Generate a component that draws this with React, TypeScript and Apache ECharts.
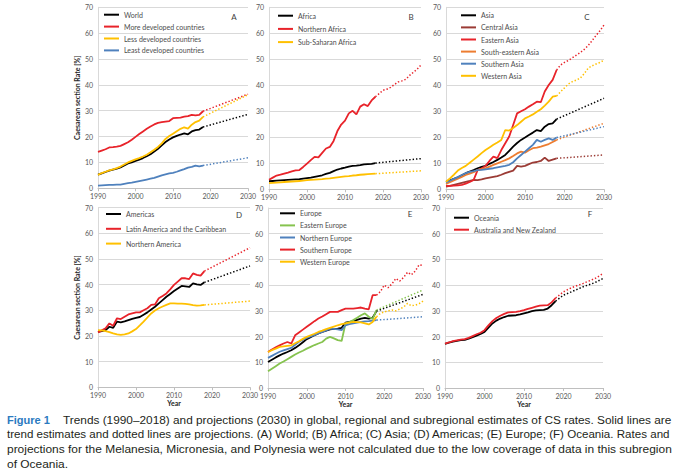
import React, { useEffect, useRef } from "react";
import * as echarts from "echarts";

// ---------- categories ----------
const YEARS = Array.from({ length: 29 }, (_, i) => 1990 + i); // 1990..2018
const PROJ_ENDS = [2018, 2030];
const PROJ_YEARS = [2018, 2019, 2020, 2021, 2022, 2023, 2024, 2025, 2026, 2027, 2028, 2029, 2030];
const PROJ_F_YEARS = [2018, 2020, 2022, 2025, 2028, 2030];
const Y_TICKS = [0, 10, 20, 30, 40, 50, 60, 70];
const X_TICKS = [1990, 2000, 2010, 2020, 2030];

// ---------- A: World ----------
const WORLD = [5.3, 5.8, 6.3, 6.8, 7.2, 7.6, 8.1, 8.8, 9.6, 10.0, 10.6, 11.1, 11.7, 12.4, 13.2, 14.2, 15.3, 16.6, 17.9, 18.9, 19.7, 20.3, 20.8, 21.2, 20.9, 22.0, 22.5, 22.7, 23.7];
const WORLD_PROJ = [23.7, 28.6];
const MORE_DEV = [14.1, 14.6, 15.1, 15.8, 15.9, 16.1, 16.4, 17.1, 17.8, 18.8, 19.9, 21.0, 22.0, 23.0, 23.9, 24.7, 25.3, 25.6, 25.8, 26.0, 27.1, 27.2, 27.3, 27.7, 27.9, 28.4, 28.2, 28.4, 29.8];
const MORE_DEV_PROJ = [29.8, 36.4];
const LESS_DEV = [5.2, 5.9, 6.4, 6.9, 7.3, 7.8, 8.4, 9.2, 10.0, 10.6, 11.2, 11.7, 12.3, 13.0, 13.9, 14.9, 16.0, 17.4, 19.1, 20.2, 21.1, 22.1, 23.0, 23.6, 23.1, 24.6, 25.6, 26.2, 27.6];
const LESS_DEV_PROJ = [27.6, 36.2];
const LEAST_DEV = [1.0, 1.1, 1.2, 1.3, 1.3, 1.4, 1.4, 1.7, 2.0, 2.2, 2.5, 2.8, 3.1, 3.4, 3.7, 4.0, 4.5, 5.0, 5.4, 5.8, 6.0, 6.4, 6.9, 7.4, 8.0, 8.3, 8.8, 8.5, 8.8];
const LEAST_DEV_PROJ = [8.8, 11.8];

// ---------- B: Africa ----------
const AFRICA = [3.1, 3.2, 3.3, 3.4, 3.5, 3.6, 3.7, 3.8, 3.9, 4.1, 4.3, 4.5, 4.8, 5.1, 5.4, 5.9, 6.3, 7.0, 7.6, 8.0, 8.3, 8.7, 9.0, 9.1, 9.3, 9.6, 9.7, 9.8, 10.1];
const AFRICA_PROJ = [10.1, 11.8];
const N_AFRICA = [3.7, 4.5, 5.3, 5.6, 6.0, 6.4, 6.9, 7.3, 7.4, 8.6, 9.9, 11.2, 12.5, 12.3, 14.0, 15.7, 16.3, 18.6, 22.4, 24.9, 26.4, 29.2, 30.2, 28.8, 31.8, 32.7, 32.0, 34.2, 35.6];
const N_AFRICA_PROJ = [35.6, 36.8, 38.1, 38.5, 39.2, 40.3, 41.3, 41.7, 42.3, 43.8, 45.0, 46.2, 47.8];
const SS_AFRICA = [2.4, 2.5, 2.6, 2.7, 2.8, 2.9, 3.0, 3.1, 3.2, 3.3, 3.5, 3.6, 3.7, 3.8, 3.9, 4.1, 4.2, 4.4, 4.6, 4.8, 5.0, 5.1, 5.3, 5.4, 5.6, 5.7, 5.8, 5.9, 6.0];
const SS_AFRICA_PROJ = [6.0, 7.1];

// ---------- C: Asia ----------
const ASIA = [2.9, 3.4, 4.0, 4.6, 5.4, 6.2, 6.8, 7.4, 8.1, 8.6, 9.0, 9.8, 10.5, 11.3, 12.2, 13.2, 14.8, 16.4, 17.8, 19.0, 19.9, 20.9, 21.8, 22.8, 22.4, 24.1, 25.1, 25.4, 27.0];
const ASIA_PROJ = [27.0, 35.0];
const C_ASIA = [1.0, 1.3, 1.7, 2.1, 2.5, 2.9, 3.2, 3.6, 3.5, 3.8, 4.2, 4.5, 4.8, 5.1, 5.6, 6.2, 6.7, 7.2, 9.0, 8.7, 9.0, 9.7, 10.3, 10.5, 10.9, 12.2, 10.9, 11.4, 11.9];
const C_ASIA_PROJ = [11.9, 13.2];
const E_ASIA = [1.3, 1.3, 1.4, 1.5, 1.7, 2.2, 2.8, 3.6, 7.4, 8.0, 9.0, 10.9, 12.6, 12.0, 15.1, 17.7, 20.3, 24.7, 29.2, 30.0, 30.8, 31.8, 32.7, 33.7, 33.5, 37.6, 40.1, 42.1, 45.9];
const E_ASIA_PROJ = [45.9, 47.8, 48.8, 49.6, 50.6, 51.6, 52.6, 53.8, 55.3, 57.2, 59.2, 61.0, 63.2];
const SE_ASIA = [2.1, 2.7, 3.4, 4.1, 4.8, 5.5, 6.0, 6.6, 7.4, 7.8, 8.1, 8.7, 9.4, 10.0, 10.6, 11.2, 11.9, 12.8, 13.8, 14.5, 14.1, 15.0, 15.8, 16.0, 16.4, 16.9, 17.4, 18.2, 19.0];
const SE_ASIA_PROJ = [19.0, 25.4];
const S_ASIA = [2.6, 3.3, 4.0, 4.7, 5.5, 6.2, 6.7, 7.0, 7.4, 7.5, 7.7, 7.9, 8.1, 8.4, 8.7, 9.0, 9.4, 10.4, 11.9, 13.2, 14.5, 15.8, 17.1, 19.0, 18.3, 19.0, 19.6, 19.0, 19.9];
const S_ASIA_PROJ = [19.9, 24.1];
const W_ASIA = [2.9, 4.2, 5.6, 7.2, 8.2, 9.0, 10.2, 11.4, 12.6, 13.9, 15.1, 16.1, 17.1, 18.0, 19.0, 22.8, 22.6, 23.6, 24.7, 26.0, 27.3, 28.0, 28.8, 29.8, 30.8, 32.2, 33.7, 35.6, 35.9];
const W_ASIA_PROJ = [35.9, 37.5, 39.0, 40.5, 41.4, 42.0, 42.8, 44.5, 46.6, 47.5, 48.2, 48.8, 49.7];

// ---------- D: Americas ----------
const AMERICAS = [21.6, 21.9, 22.3, 23.6, 23.2, 25.6, 25.3, 25.7, 26.2, 26.7, 27.1, 27.4, 28.3, 29.2, 30.3, 31.4, 32.7, 34.0, 35.3, 36.4, 37.5, 38.5, 39.5, 39.3, 39.1, 40.5, 40.1, 39.9, 40.9];
const AMERICAS_PROJ = [40.9, 47.3];
const LATAM = [21.4, 22.2, 23.0, 24.9, 24.0, 26.9, 26.6, 27.5, 28.4, 28.8, 29.2, 29.2, 30.0, 30.8, 32.1, 32.3, 34.7, 35.6, 36.6, 38.2, 39.9, 41.2, 42.5, 42.5, 42.2, 44.4, 43.8, 43.5, 45.3];
const LATAM_PROJ = [45.3, 54.4];
const N_AMERICA = [22.3, 22.2, 21.9, 21.5, 21.0, 20.6, 20.4, 20.6, 21.0, 21.8, 22.7, 24.1, 25.6, 27.2, 28.8, 29.9, 30.8, 31.5, 32.1, 32.7, 32.7, 32.6, 32.6, 32.5, 32.3, 32.0, 31.8, 31.9, 32.1];
const N_AMERICA_PROJ = [32.1, 33.6];

// ---------- E: Europe ----------
const EUROPE = [10.1, 11.0, 11.9, 12.7, 13.4, 14.0, 14.7, 15.6, 16.6, 17.8, 19.0, 19.8, 20.5, 21.2, 21.8, 22.3, 22.8, 23.0, 23.1, 23.4, 25.4, 25.7, 26.0, 26.5, 27.0, 27.3, 27.0, 27.3, 29.9];
const EUROPE_PROJ = [29.9, 36.4];
const E_EUROPE = [6.5, 7.5, 8.5, 9.5, 10.3, 11.2, 12.1, 13.0, 13.8, 14.5, 15.3, 16.0, 16.7, 17.3, 17.9, 19.2, 19.9, 19.3, 18.6, 18.3, 25.1, 25.6, 26.4, 27.3, 28.3, 29.0, 27.7, 26.8, 30.3];
const E_EUROPE_PROJ = [30.3, 38.1];
const N_EUROPE = [11.7, 12.5, 13.3, 14.1, 14.6, 15.1, 15.6, 16.8, 18.0, 18.8, 19.5, 20.1, 20.6, 21.2, 21.8, 22.4, 23.1, 23.0, 22.8, 22.5, 24.4, 24.8, 25.1, 25.4, 25.7, 25.9, 26.0, 26.2, 26.4];
const N_EUROPE_PROJ = [26.4, 27.7];
const S_EUROPE = [14.0, 15.0, 15.8, 16.6, 17.3, 17.9, 17.3, 20.5, 21.6, 22.7, 23.8, 24.9, 26.0, 27.0, 27.8, 28.7, 29.6, 29.6, 29.6, 30.3, 30.9, 30.9, 30.9, 31.1, 31.3, 30.9, 30.6, 36.1, 36.1];
const S_EUROPE_PROJ = [36.1, 37.5, 40.0, 39.0, 40.5, 42.6, 41.6, 43.0, 45.0, 44.0, 45.5, 47.9, 47.6];
const W_EUROPE = [14.0, 14.7, 15.3, 16.0, 16.2, 16.4, 16.6, 17.4, 18.2, 19.1, 19.9, 20.5, 21.1, 21.8, 22.3, 22.9, 23.4, 23.9, 24.4, 24.8, 25.1, 25.4, 25.7, 25.6, 25.5, 25.1, 24.7, 25.7, 27.7];
const W_EUROPE_PROJ = [27.7, 29.0, 29.6, 30.0, 30.3, 30.0, 30.7, 31.5, 32.9, 32.0, 32.2, 32.8, 33.8];

// ---------- F: Oceania ----------
const OCEANIA = [17.2, 17.6, 18.0, 18.3, 18.6, 18.7, 19.2, 19.8, 20.4, 21.0, 21.8, 23.5, 25.1, 26.2, 27.0, 27.6, 28.1, 28.2, 28.3, 28.6, 29.0, 29.4, 29.9, 30.2, 30.3, 30.4, 30.9, 32.2, 33.8];
const OCEANIA_PROJ = [33.8, 36.1, 37.4, 39.4, 41.0, 42.6];
const AUS_NZ = [17.3, 17.7, 18.2, 18.5, 18.8, 19.0, 19.5, 20.2, 20.9, 21.5, 22.5, 24.4, 26.0, 27.2, 28.1, 28.8, 29.4, 29.5, 29.6, 29.9, 30.3, 30.8, 31.2, 31.6, 32.0, 32.1, 32.2, 33.3, 35.0];
const AUS_NZ_PROJ = [35.0, 37.4, 39.0, 40.7, 42.6, 44.5];

// ---------- texts ----------
const PANEL_LETTERS = ["A", "B", "C", "D", "E", "F"];
const Y_TITLE = "Caesarean section Rate [%]";
const X_TITLE = "Year";
const CAPTION_BOLD = "Figure 1";
const CAPTION_LINES = [
  "Trends (1990\u20132018) and projections (2030) in global, regional and subregional estimates of CS rates. Solid lines are",
  "trend estimates and dotted lines are projections. (A) World; (B) Africa; (C) Asia; (D) Americas; (E) Europe; (F) Oceania. Rates and",
  "projections for the Melanesia, Micronesia, and Polynesia were not calculated due to the low coverage of data in this subregion",
  "of Oceania.",
];

// ---------- styles ----------
const BLACK = "#000000";
const RED = "#e8232a";
const YELLOW = "#ffc000";
const BLUE = "#4f81bd";
const ORANGE = "#ed7d31";
const BROWN = "#9b3b35";
const GREEN = "#86c34f";
const FONT = "Lato, 'Noto Sans', sans-serif";

const GRIDS = [
  { left: 98, top: 7.3, width: 150, height: 181 },
  { left: 269, top: 7.3, width: 152, height: 182 },
  { left: 446, top: 7.3, width: 158, height: 182 },
  { left: 98, top: 207.7, width: 152, height: 179.6 },
  { left: 268, top: 208, width: 155, height: 180 },
  { left: 445, top: 208, width: 158, height: 180 },
];
const LEGEND_POS = [
  { left: 104, top: 9.7, gap: 11.9 },
  { left: 278, top: 10.7, gap: 13.2 },
  { left: 461, top: 10.3, gap: 12.1 },
  { left: 106, top: 209, gap: 14.8 },
  { left: 280, top: 208.3, gap: 12.1 },
  { left: 454, top: 212.7, gap: 12 },
];
const LETTER_POS = [
  [234, 17], [411, 17], [587, 17], [239, 215], [410, 214], [590, 214],
];

const pair = (xs: number[], ys: number[]) => xs.map((x, i) => [x, ys[i]]);

function trend(name: string, color: string, idx: number, vals: number[]) {
  return {
    type: "line", name, xAxisIndex: idx, yAxisIndex: idx,
    data: pair(YEARS, vals), symbol: "none", silent: true,
    lineStyle: { color, width: 1.8 }, itemStyle: { color },
  };
}
function proj(name: string, color: string, idx: number, xs: number[], vals: number[]) {
  return {
    type: "line", name: name + " (projection)", xAxisIndex: idx, yAxisIndex: idx,
    data: pair(xs, vals), symbol: "none", silent: true,
    lineStyle: { color, width: 1.5, type: [1.4, 2] }, itemStyle: { color },
  };
}

const PANELS: { name: string; color: string; vals: number[]; px: number[]; pv: number[] }[][] = [
  [
    { name: "World", color: BLACK, vals: WORLD, px: PROJ_ENDS, pv: WORLD_PROJ },
    { name: "More developed countries", color: RED, vals: MORE_DEV, px: PROJ_ENDS, pv: MORE_DEV_PROJ },
    { name: "Less developed countries", color: YELLOW, vals: LESS_DEV, px: PROJ_ENDS, pv: LESS_DEV_PROJ },
    { name: "Least developed countries", color: BLUE, vals: LEAST_DEV, px: PROJ_ENDS, pv: LEAST_DEV_PROJ },
  ],
  [
    { name: "Africa", color: BLACK, vals: AFRICA, px: PROJ_ENDS, pv: AFRICA_PROJ },
    { name: "Northern Africa", color: RED, vals: N_AFRICA, px: PROJ_YEARS, pv: N_AFRICA_PROJ },
    { name: "Sub-Saharan Africa", color: YELLOW, vals: SS_AFRICA, px: PROJ_ENDS, pv: SS_AFRICA_PROJ },
  ],
  [
    { name: "Asia", color: BLACK, vals: ASIA, px: PROJ_ENDS, pv: ASIA_PROJ },
    { name: "Central Asia", color: BROWN, vals: C_ASIA, px: PROJ_ENDS, pv: C_ASIA_PROJ },
    { name: "Eastern Asia", color: RED, vals: E_ASIA, px: PROJ_YEARS, pv: E_ASIA_PROJ },
    { name: "South-eastern Asia", color: ORANGE, vals: SE_ASIA, px: PROJ_ENDS, pv: SE_ASIA_PROJ },
    { name: "Southern Asia", color: BLUE, vals: S_ASIA, px: PROJ_ENDS, pv: S_ASIA_PROJ },
    { name: "Western Asia", color: YELLOW, vals: W_ASIA, px: PROJ_YEARS, pv: W_ASIA_PROJ },
  ],
  [
    { name: "Americas", color: BLACK, vals: AMERICAS, px: PROJ_ENDS, pv: AMERICAS_PROJ },
    { name: "Latin America and the Caribbean", color: RED, vals: LATAM, px: PROJ_ENDS, pv: LATAM_PROJ },
    { name: "Northern America", color: YELLOW, vals: N_AMERICA, px: PROJ_ENDS, pv: N_AMERICA_PROJ },
  ],
  [
    { name: "Europe", color: BLACK, vals: EUROPE, px: PROJ_ENDS, pv: EUROPE_PROJ },
    { name: "Eastern Europe", color: GREEN, vals: E_EUROPE, px: PROJ_ENDS, pv: E_EUROPE_PROJ },
    { name: "Northern Europe", color: BLUE, vals: N_EUROPE, px: PROJ_ENDS, pv: N_EUROPE_PROJ },
    { name: "Southern Europe", color: RED, vals: S_EUROPE, px: PROJ_YEARS, pv: S_EUROPE_PROJ },
    { name: "Western Europe", color: YELLOW, vals: W_EUROPE, px: PROJ_YEARS, pv: W_EUROPE_PROJ },
  ],
  [
    { name: "Oceania", color: BLACK, vals: OCEANIA, px: PROJ_F_YEARS, pv: OCEANIA_PROJ },
    { name: "Australia and New Zealand", color: RED, vals: AUS_NZ, px: PROJ_F_YEARS, pv: AUS_NZ_PROJ },
  ],
];

const CAPTION_FONT = "11.5px 'Liberation Sans', Arial, sans-serif";
const CAPTION_BOLD_FONT = "bold 11.5px 'Liberation Sans', Arial, sans-serif";

function measure(text: string, font: string) {
  const c = document.createElement("canvas").getContext("2d");
  if (!c) return text.length * 5.5;
  c.font = font;
  return c.measureText(text).width;
}

export default function App() {
  const ref = useRef<HTMLDivElement>(null);
  useEffect(() => {
    if (!ref.current) return;
    const chart = echarts.init(ref.current, null, { renderer: "svg" });

    const series: any[] = [];
    PANELS.forEach((panel, idx) => {
      panel.forEach((s) => series.push(trend(s.name, s.color, idx, s.vals)));
      panel.forEach((s) => series.push(proj(s.name, s.color, idx, s.px, s.pv)));
    });

    const xAxis = GRIDS.map((_, idx) => ({
      type: "value", gridIndex: idx, min: X_TICKS[0], max: X_TICKS[X_TICKS.length - 1], interval: 10,
      splitLine: { show: false },
      axisLine: { show: true, lineStyle: { color: "#bfbfbf", width: 1 } },
      axisTick: { show: true, length: 3, lineStyle: { color: "#bfbfbf" } },
      axisLabel: { fontSize: 7, color: "#595959", margin: 4, fontFamily: FONT, formatter: (v: number) => String(v) },
      name: idx >= 3 ? X_TITLE : "",
      nameLocation: "middle", nameGap: 12,
      nameTextStyle: { fontSize: 7, fontWeight: "bold", color: "#262626", fontFamily: FONT },
    }));
    const yAxis = GRIDS.map((_, idx) => ({
      type: "value", gridIndex: idx, min: Y_TICKS[0], max: Y_TICKS[Y_TICKS.length - 1], interval: 10,
      splitLine: { show: true, lineStyle: { color: "#d9d9d9", width: 1 } },
      axisLine: { show: true, lineStyle: { color: "#d9d9d9", width: 1 } },
      axisTick: { show: false },
      axisLabel: { fontSize: 7, color: "#595959", margin: 5, fontFamily: FONT },
      name: idx === 0 || idx === 3 ? Y_TITLE : "",
      nameLocation: "middle", nameGap: 15, nameRotate: 90,
      nameTextStyle: { fontSize: 7, fontWeight: "bold", color: "#262626", fontFamily: FONT },
    }));

    const legend = PANELS.map((panel, idx) => ({
      data: panel.map((s) => s.name),
      orient: "vertical", left: LEGEND_POS[idx].left, top: LEGEND_POS[idx].top,
      itemGap: LEGEND_POS[idx].gap - 10, itemWidth: 15, itemHeight: 2, icon: "rect",
      padding: 0, selectedMode: false,
      textStyle: { fontSize: 7, lineHeight: 10, color: "#4d4d4d", fontFamily: FONT },
    }));

    const boldW = measure(CAPTION_BOLD, CAPTION_BOLD_FONT);
    const lineStart = [63, 7, 7, 7];
    const lineEnd = 672;
    const lineY = [420, 434.5, 449, 463.5];
    const scales = CAPTION_LINES.map((t, i) => (lineEnd - lineStart[i]) / measure(t, CAPTION_FONT));
    const graphic: any[] = [];
    PANEL_LETTERS.forEach((l, i) => {
      graphic.push({
        type: "text", x: LETTER_POS[i][0], y: LETTER_POS[i][1], silent: true,
        style: { text: l, fontSize: 8, fill: "#404040", fontFamily: FONT, align: "center", verticalAlign: "middle" },
      });
    });
    graphic.push({
      type: "text", x: 7, y: lineY[0], silent: true,
      scaleX: 43 / boldW,
      style: { text: CAPTION_BOLD, font: CAPTION_BOLD_FONT, fill: "#2a7abf", verticalAlign: "middle" },
    });
    CAPTION_LINES.forEach((t, i) => {
      const s = i === 3 ? scales[2] : scales[i];
      graphic.push({
        type: "text", x: lineStart[i], y: lineY[i], silent: true, scaleX: s,
        style: { text: t, font: CAPTION_FONT, fill: "#231f20", verticalAlign: "middle" },
      });
    });

    chart.setOption({
      animation: false,
      backgroundColor: "#ffffff",
      grid: GRIDS.map((g) => ({ ...g, containLabel: false })),
      xAxis, yAxis, legend, series, graphic,
    });
    return () => chart.dispose();
  }, []);
  return (
    <div
      ref={ref}
      style={{ position: "fixed", left: 0, top: 0, width: 680, height: 474, background: "#fff" }}
    />
  );
}
